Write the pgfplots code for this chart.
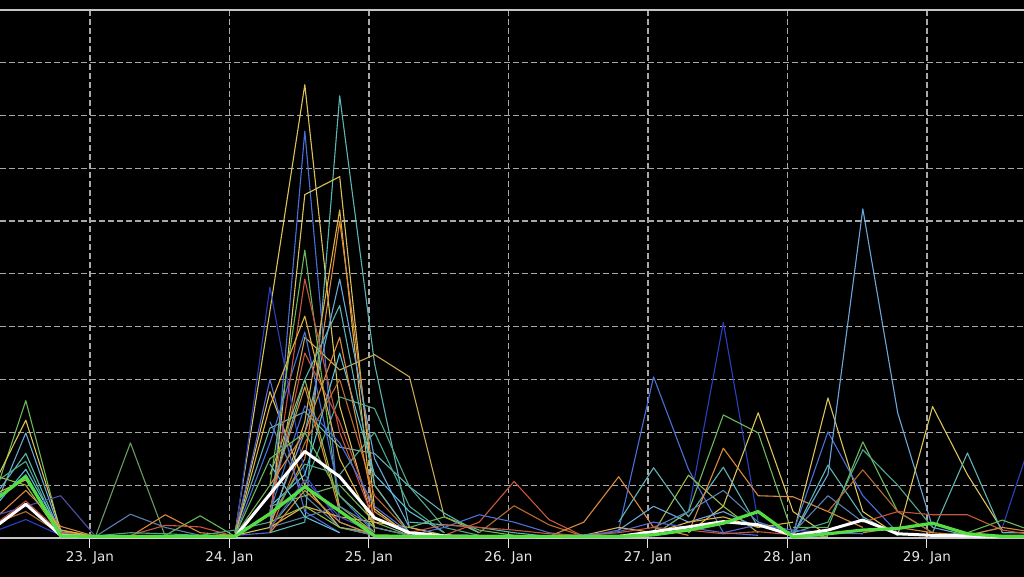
\documentclass[border=0pt]{standalone}
\usepackage{pgfplots}
\pgfplotsset{compat=1.18}
\usepackage{fontspec}
\setmainfont{DejaVu Sans}
\definecolor{gridc}{HTML}{A8A8A8}
\definecolor{axc}{HTML}{C4C4C4}
\definecolor{labelc}{HTML}{E6E6E6}
\definecolor{cYel}{HTML}{D9C35A}
\definecolor{cGold}{HTML}{E0B040}
\definecolor{cTan}{HTML}{C8A850}
\definecolor{cTeal}{HTML}{5FB3B3}
\definecolor{cBlue}{HTML}{4A70D8}
\definecolor{cNavy}{HTML}{2A40C0}
\definecolor{cLBlue}{HTML}{6AA6D9}
\definecolor{cGreen}{HTML}{6BB85A}
\definecolor{cOrange}{HTML}{D98A3D}
\definecolor{cRed}{HTML}{C8553D}
\definecolor{cSea}{HTML}{4FA88A}
\definecolor{cCyan}{HTML}{58C0D8}
\definecolor{cOlive}{HTML}{98B848}
\definecolor{cBrown}{HTML}{B86A30}
\definecolor{cSlate}{HTML}{5A6AD0}
\definecolor{cSteel}{HTML}{5A80B0}
\definecolor{cMGreen}{HTML}{6A9A60}
\definecolor{cPurple}{HTML}{5050B0}
\definecolor{cBright}{HTML}{55DD44}
\begin{document}
\begin{tikzpicture}
\fill[black] (-50pt,-50pt) rectangle (1074pt,626pt);
\begin{axis}[
 at={(0pt,38pt)}, anchor=south west, scale only axis, width=1024pt, height=528.3pt,
 xmin=22.355, xmax=29.696, ymin=0, ymax=100,
 axis line style={draw=none},
 xtick={23,24,25,26,27,28,29},
 xticklabels={23. Jan,24. Jan,25. Jan,26. Jan,27. Jan,28. Jan,29. Jan},
 xtick pos=left, tick align=outside, major tick length=10pt,
 xtick style={color=labelc, line width=1pt},
 ytick={10,20,...,90}, yticklabels={}, ytick style={draw=none},
 extra y ticks={0,100}, extra y tick labels={},
 extra y tick style={major grid style={solid, line width=2.2pt, color=axc}, major tick length=0pt},
 grid=major, major grid style={dash pattern=on 6pt off 3pt, line width=1.1pt, color=gridc},
 xticklabel style={font=\fontsize{13.5}{16}\selectfont, text=labelc},
 every axis plot/.append style={line width=1.1pt, line join=round, mark=none},
]
% ---- left cluster ----
\addplot[cGreen] coordinates {(22.29,6)(22.54,26)(22.79,1)(23.04,0.5)};
\addplot[cYel] coordinates {(22.29,9)(22.54,22.3)(22.79,1.5)(23.04,0.3)};
\addplot[cLBlue] coordinates {(22.29,4)(22.54,19.9)(22.79,1)(23.04,0.3)};
\addplot[cTeal] coordinates {(22.29,7)(22.54,16)(22.79,0.8)(23.04,0.2)};
\addplot[cSea] coordinates {(22.29,10)(22.54,14.5)(22.79,0.5)(23.04,0.2)};
\addplot[cCyan] coordinates {(22.29,5)(22.54,13)(22.79,1.2)(23.04,0.2)};
\addplot[cOrange] coordinates {(22.29,3)(22.54,9)(22.79,2.2)(23.04,0.3)};
\addplot[cRed] coordinates {(22.29,2)(22.54,7)(22.79,1)(23.04,0.5)};
\addplot[cPurple] coordinates {(22.29,4)(22.54,6)(22.79,8)(23.04,0.3)(23.29,0.2)};
\addplot[cGold] coordinates {(22.29,8)(22.54,11)(22.79,1.5)(23.04,0.2)};
\addplot[cOlive] coordinates {(22.29,12)(22.54,10)(22.79,0.4)(23.04,0.2)};
\addplot[cNavy] coordinates {(22.29,1)(22.54,3.5)(22.79,0.5)(23.04,0.2)};
\addplot[cBrown] coordinates {(22.29,2.5)(22.54,5)(22.79,0.8)(23.04,0.2)};
\addplot[cSteel] coordinates {(22.29,6)(22.54,12)(22.79,0.6)(23.04,0.2)};
% ---- small bumps 23-24 Jan ----
\addplot[cMGreen] coordinates {(23.04,0.3)(23.29,18)(23.54,0.3)(23.79,0.5)(24.04,0.3)};
\addplot[cSteel] coordinates {(23.04,0.3)(23.29,4.5)(23.54,2.0)(23.79,0.5)(24.04,0.3)};
\addplot[cOrange] coordinates {(23.29,0.3)(23.54,4.4)(23.79,1)(24.04,0.5)};
\addplot[cGreen] coordinates {(23.54,0.5)(23.79,4.2)(24.04,0.3)};
\addplot[cRed] coordinates {(23.29,0.5)(23.54,2.4)(23.79,2.1)(24.04,0.3)};
% ---- main cluster ----
\addplot[cYel] coordinates {(24.04,1)(24.29,43)(24.54,85.8)(24.79,25)(25.04,2)(25.29,0.5)};
\addplot[cTeal] coordinates {(24.29,1)(24.54,3)(24.79,83.7)(25.04,33)(25.29,2)(25.54,0.5)};
\addplot[cBlue] coordinates {(24.04,0.5)(24.29,1)(24.54,77)(24.79,3)(25.04,0.5)};
\addplot[cYel] coordinates {(24.04,0.5)(24.29,2)(24.54,65)(24.79,68.4)(25.04,5.5)(25.29,0.5)};
\addplot[cGold] coordinates {(24.29,2)(24.54,22)(24.79,62.1)(25.04,1)};
\addplot[cTan] coordinates {(24.29,5)(24.54,38)(24.79,31.8)(25.04,34.7)(25.29,30.5)(25.54,4)(25.79,1)};
\addplot[cOrange] coordinates {(24.29,3)(24.54,15)(24.79,60)(25.04,10)(25.29,1)};
\addplot[cNavy] coordinates {(24.04,0.5)(24.29,47.5)(24.54,12)(24.79,3)(25.04,0.5)};
\addplot[cGreen] coordinates {(24.04,0.5)(24.29,10)(24.54,54.5)(24.79,5)(25.04,1)};
\addplot[cLBlue] coordinates {(24.29,3)(24.54,20)(24.79,49)(25.04,15)(25.29,2)};
\addplot[cSea] coordinates {(24.29,2)(24.54,10)(24.79,26.7)(25.04,24.5)(25.29,9.7)(25.54,2)(25.79,0.5)};
\addplot[cTeal] coordinates {(24.04,1)(24.29,20.8)(24.54,23.9)(24.79,17.2)(25.04,16)(25.29,9.7)(25.54,4.7)(25.79,1)};
\addplot[cYel] coordinates {(24.04,1)(24.29,27.7)(24.54,10)(24.79,2)(25.04,0.5)};
\addplot[cOrange] coordinates {(24.29,8)(24.54,28.6)(24.79,5)(25.04,1)};
\addplot[cBlue] coordinates {(24.04,0.5)(24.29,18)(24.54,39)(24.79,8)(25.04,1)};
\addplot[cRed] coordinates {(24.29,4)(24.54,49)(24.79,20)(25.04,3)};
\addplot[cCyan] coordinates {(24.29,6)(24.54,12)(24.79,35)(25.04,12)(25.29,5)(25.54,1)};
\addplot[cRed] coordinates {(24.29,5)(24.54,35)(24.79,22)(25.04,4)};
\addplot[cOlive] coordinates {(24.29,12)(24.54,30)(24.79,6)(25.04,1)};
\addplot[cSteel] coordinates {(24.29,22)(24.54,8)(24.79,2)(25.04,0.5)};
\addplot[cBrown] coordinates {(24.29,1)(24.54,18)(24.79,30)(25.04,8)(25.29,1)};
\addplot[cSea] coordinates {(24.29,4)(24.54,14)(24.79,12)(25.04,20)(25.29,6)(25.54,1)};
\addplot[cGreen] coordinates {(24.29,6)(24.54,8)(24.79,10)(25.04,3)(25.29,0.5)};
\addplot[cGold] coordinates {(24.29,2)(24.54,6)(24.79,4)(25.04,3)(25.29,2)(25.54,0.5)};
\addplot[cSlate] coordinates {(24.04,0.5)(24.29,30)(24.54,5)(24.79,1)};
\addplot[cOlive] coordinates {(24.29,3)(24.54,6)(24.79,2)(25.04,1)};
\addplot[cSteel] coordinates {(24.29,2)(24.54,4)(24.79,6)(25.04,2)(25.29,0.5)};
\addplot[cOrange] coordinates {(24.29,1)(24.54,9)(24.79,3)(25.04,0.5)};
\addplot[cCyan] coordinates {(24.29,14)(24.54,4)(24.79,1)};
\addplot[cPurple] coordinates {(24.29,2)(24.54,11)(24.79,4)(25.04,1)};
\addplot[cTeal] coordinates {(24.04,0.5)(24.29,8)(24.54,30)(24.79,44)(25.04,10)(25.29,1)};
\addplot[cGold] coordinates {(24.04,0.5)(24.29,25)(24.54,42)(24.79,15)(25.04,2)};
\addplot[cBlue] coordinates {(24.29,5)(24.54,25)(24.79,18)(25.04,6)(25.29,1)};
\addplot[cOrange] coordinates {(24.29,10)(24.54,20)(24.79,38)(25.04,5)(25.29,0.5)};
\addplot[cGreen] coordinates {(24.04,0.5)(24.29,15)(24.54,20)(24.79,8)(25.04,2)};
% ---- 25-26 Jan ----
\addplot[cRed] coordinates {(25.54,0.5)(25.79,3)(26.04,10.7)(26.29,3.5)(26.54,0.3)};
\addplot[cBrown] coordinates {(25.79,1)(26.04,6.1)(26.29,2.5)(26.54,0.3)};
\addplot[cBlue] coordinates {(25.29,0.5)(25.54,2)(25.79,4.4)(26.04,3)(26.29,1)(26.54,0.2)};
\addplot[cGreen] coordinates {(25.29,2)(25.54,4)(25.79,1.5)(26.04,0.5)};
\addplot[cTeal] coordinates {(25.29,3)(25.54,2.5)(25.79,2)(26.04,1)(26.29,0.3)};
% ---- right part ----
\addplot[cOrange] coordinates {(26.29,0.3)(26.54,3)(26.79,11.6)(27.04,2)(27.29,0.5)};
\addplot[cBlue] coordinates {(26.54,0.2)(26.79,1.5)(27.04,30.5)(27.29,13)(27.54,1)(27.79,0.5)};
\addplot[cNavy] coordinates {(26.79,0.3)(27.04,0.5)(27.29,5)(27.54,40.8)(27.79,3)(28.04,0.5)};
\addplot[cGreen] coordinates {(27.04,0.5)(27.29,5)(27.54,23.3)(27.79,19.9)(28.04,0.5)(28.29,0.3)};
\addplot[cYel] coordinates {(27.29,1)(27.54,6)(27.79,23.7)(28.04,5)(28.29,0.5)};
\addplot[cYel] coordinates {(28.04,0.5)(28.29,26.5)(28.54,5)(28.79,0.5)};
\addplot[cBlue] coordinates {(28.04,1)(28.29,20.1)(28.54,8)(28.79,1)};
\addplot[cLBlue] coordinates {(28.04,0.5)(28.29,12)(28.54,62.3)(28.79,23.7)(29.04,2)(29.29,0.5)};
\addplot[cGreen] coordinates {(28.04,2)(28.29,2)(28.54,18.2)(28.79,5)(29.04,1)};
\addplot[cSea] coordinates {(28.04,1)(28.29,3)(28.54,16.7)(28.79,10)(29.04,2)};
\addplot[cYel] coordinates {(28.79,0.5)(29.04,24.9)(29.29,12)(29.54,1.5)};
\addplot[cTeal] coordinates {(29.04,1)(29.29,16.1)(29.54,1)(29.79,1)};
\addplot[cNavy] coordinates {(29.29,0.5)(29.54,2)(29.79,22)};
\addplot[cTeal] coordinates {(26.79,3)(27.04,13.3)(27.29,4)(27.54,13.4)(27.79,2)};
\addplot[cOlive] coordinates {(27.04,1)(27.29,11.9)(27.54,6)(27.79,1)};
\addplot[cOrange] coordinates {(27.29,1)(27.54,17)(27.79,8)(28.04,7.8)(28.29,5)(28.54,2)};
\addplot[cTeal] coordinates {(28.04,0.5)(28.29,13.8)(28.54,4)(28.79,0.5)};
\addplot[cBrown] coordinates {(28.29,5)(28.54,12.9)(28.79,5)(29.04,1)};
\addplot[cRed] coordinates {(28.54,3)(28.79,5)(29.04,4.4)(29.29,4.4)(29.54,1.5)(29.79,0.5)};
\addplot[cGreen] coordinates {(29.04,0.5)(29.29,1)(29.54,3.4)(29.79,1)};
\addplot[cLBlue] coordinates {(26.79,1.5)(27.04,6)(27.29,3)(27.54,5)(27.79,2)};
\addplot[cSteel] coordinates {(27.04,2)(27.29,5)(27.54,9)(27.79,3)(28.04,1)(28.29,8)(28.54,3)};
\addplot[cGold] coordinates {(26.54,0.5)(26.79,2)(27.04,1)(27.29,3)(27.54,4)(27.79,2)(28.04,3)};
% ---- baseline fuzz ----
\addplot[cRed] coordinates {(25.29,1)(25.54,2.5)(25.79,2)(26.04,1.5)(26.29,0.8)(26.54,0.5)(26.79,1)(27.04,2)(27.29,1.5)(27.54,0.8)(27.79,1.2)(28.04,0.6)};
\addplot[cSea] coordinates {(22.79,0.6)(23.04,0.4)(23.29,1)(23.54,0.8)(23.79,0.5)(24.04,1.5)(24.29,3)};
\addplot[cSlate] coordinates {(26.29,0.3)(26.54,0.6)(26.79,1.2)(27.04,3)(27.29,2)(27.54,1)(27.79,2.5)(28.04,1.5)(28.29,1)(28.54,0.8)};
\addplot[cOrange] coordinates {(28.54,1)(28.79,2)(29.04,1)(29.29,0.5)(29.54,2)(29.79,1)};
% ---- thick series ----
\addplot[white, line width=3pt] coordinates {(22.29,1.5)(22.54,6.4)(22.79,0.5)(23.04,0.2)(23.29,0.2)(23.54,0.2)(23.79,0.2)(24.04,0.2)(24.29,8.3)(24.54,16.4)(24.79,11.6)(25.04,3.8)(25.29,1)(25.54,0.4)(25.79,0.3)(26.04,0.3)(26.29,0.2)(26.54,0.3)(26.79,0.3)(27.04,1.2)(27.29,2.1)(27.54,3.1)(27.79,2.5)(28.04,0.5)(28.29,1.5)(28.54,3.4)(28.79,0.8)(29.04,0.5)(29.29,0.4)(29.54,0.3)(29.79,0.3)};
\addplot[cBright, line width=3.2pt] coordinates {(22.29,6.6)(22.54,11.6)(22.79,0.4)(23.04,0.3)(23.29,0.3)(23.54,0.3)(23.79,0.3)(24.04,0.3)(24.29,4.6)(24.54,9.7)(24.79,5.1)(25.04,0.4)(25.29,0.3)(25.54,0.3)(25.79,0.3)(26.04,0.3)(26.29,0.3)(26.54,0.3)(26.79,0.3)(27.04,0.6)(27.29,1.5)(27.54,2.8)(27.79,5.0)(28.04,0.2)(28.29,0.8)(28.54,1.5)(28.79,1.8)(29.04,2.8)(29.29,0.8)(29.54,0.3)(29.79,0.3)};
\end{axis}
\pgfresetboundingbox
\path[use as bounding box] (0pt,0pt) rectangle (1024pt,576pt);
\end{tikzpicture}
\end{document}
